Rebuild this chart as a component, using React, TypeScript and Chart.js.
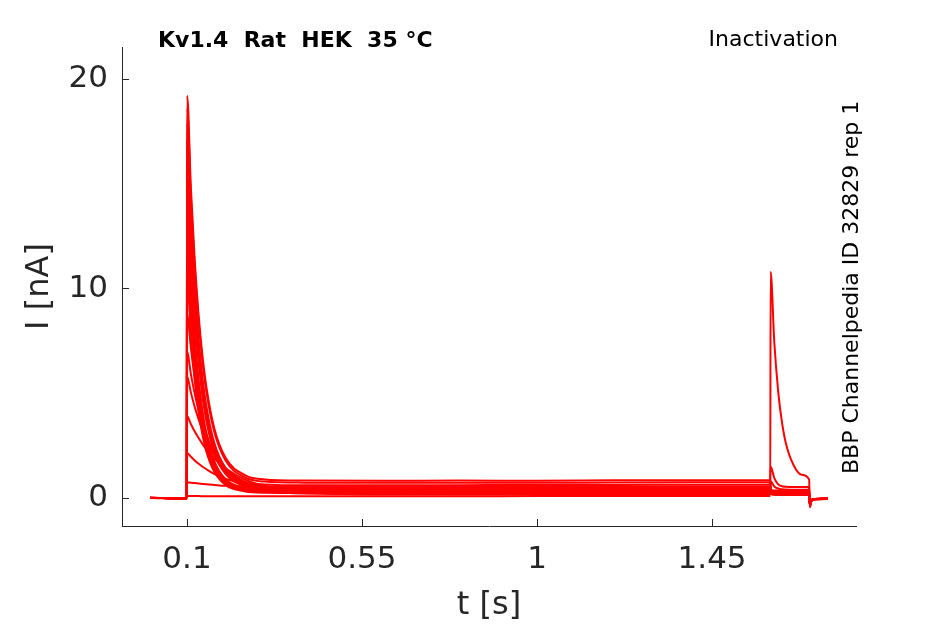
import { useEffect, useRef } from 'react';
import { Chart, registerables } from 'chart.js';

Chart.register(...registerables);

// sample times [s]: baseline | prepulse | test pulse | tail
const tSec = [
  0.005, 0.0995,
  0.1005, 0.11, 0.12, 0.13, 0.14, 0.15, 0.17, 0.2, 0.25, 0.3, 0.4, 0.6, 0.8, 1.0, 1.2, 1.4, 1.5995,
  1.6005, 1.61, 1.62, 1.63, 1.64, 1.66, 1.68, 1.6995,
  1.7015, 1.705, 1.715, 1.748,
];

// current [nA], one sweep per array
const sweep01 = [0, -0.02, 19.2, 14.83, 11.35, 8.72, 6.76, 5.29, 3.34, 1.89, 1.08, 0.88, 0.83, 0.82, 0.83, 0.82, 0.84, 0.85, 0.85, 0.4, 0.36, 0.35, 0.35, 0.35, 0.35, 0.34, 0.35, -0.42, -0.16, -0.06, -0.05];
const sweep02 = [0.01, -0.02, 18.6, 14.34, 10.97, 8.41, 6.5, 5.06, 3.17, 1.76, 0.97, 0.78, 0.73, 0.72, 0.73, 0.72, 0.74, 0.75, 0.75, 0.38, 0.33, 0.32, 0.32, 0.32, 0.32, 0.31, 0.32, -0.4, -0.15, -0.06, -0.04];
const sweep03 = [0, -0.01, 17.9, 13.52, 10.1, 7.57, 5.72, 4.37, 2.64, 1.41, 0.77, 0.64, 0.6, 0.6, 0.61, 0.62, 0.62, 0.63, 0.63, 0.36, 0.31, 0.3, 0.3, 0.3, 0.3, 0.3, 0.3, -0.38, -0.15, -0.06, -0.05];
const sweep04 = [0, -0.03, 17.1, 12.91, 9.62, 7.2, 5.43, 4.13, 2.48, 1.3, 0.69, 0.56, 0.52, 0.52, 0.53, 0.53, 0.54, 0.55, 0.55, 0.34, 0.29, 0.28, 0.28, 0.28, 0.28, 0.28, 0.28, -0.37, -0.14, -0.05, -0.04];
const sweep05 = [0.01, -0.02, 16.2, 12.22, 9.1, 6.8, 5.12, 3.89, 2.32, 1.2, 0.62, 0.49, 0.46, 0.47, 0.46, 0.48, 0.48, 0.49, 0.49, 0.33, 0.28, 0.27, 0.27, 0.27, 0.27, 0.27, 0.27, -0.36, -0.14, -0.05, -0.05];
const sweep06 = [0, -0.02, 15.3, 11.54, 8.59, 6.42, 4.82, 3.66, 2.18, 1.12, 0.57, 0.45, 0.42, 0.42, 0.43, 0.43, 0.44, 0.44, 0.44, 0.31, 0.26, 0.25, 0.25, 0.25, 0.25, 0.25, 0.25, -0.35, -0.13, -0.05, -0.04];
const sweep07 = [0, -0.01, 14.4, 10.6, 7.7, 5.62, 4.14, 3.07, 1.77, 0.88, 0.48, 0.4, 0.38, 0.38, 0.39, 0.39, 0.4, 0.4, 0.4, 0.3, 0.25, 0.24, 0.24, 0.24, 0.24, 0.24, 0.24, -0.34, -0.13, -0.05, -0.04];
const sweep08 = [0.01, -0.03, 13.4, 9.86, 7.16, 5.22, 3.84, 2.85, 1.63, 0.81, 0.43, 0.36, 0.34, 0.35, 0.34, 0.35, 0.36, 0.36, 0.36, 0.28, 0.23, 0.22, 0.22, 0.22, 0.22, 0.22, 0.22, -0.33, -0.12, -0.05, -0.04];
const sweep09 = [0, -0.02, 12.4, 9.12, 6.62, 4.83, 3.54, 2.62, 1.5, 0.74, 0.38, 0.32, 0.3, 0.3, 0.31, 0.31, 0.32, 0.32, 0.32, 0.26, 0.21, 0.2, 0.2, 0.2, 0.2, 0.2, 0.2, -0.32, -0.12, -0.05, -0.04];
const sweep10 = [0, -0.02, 11.4, 8.38, 6.08, 4.43, 3.25, 2.41, 1.37, 0.67, 0.35, 0.29, 0.27, 0.27, 0.28, 0.28, 0.29, 0.29, 0.29, 0.24, 0.2, 0.19, 0.19, 0.19, 0.19, 0.19, 0.19, -0.31, -0.11, -0.05, -0.04];
const sweep11 = [0.01, -0.01, 10.5, 7.72, 5.6, 4.08, 2.99, 2.21, 1.26, 0.61, 0.31, 0.25, 0.24, 0.24, 0.25, 0.25, 0.26, 0.26, 0.26, 0.22, 0.19, 0.18, 0.18, 0.18, 0.18, 0.18, 0.18, -0.3, -0.11, -0.05, -0.04];
const sweep12 = [0, -0.02, 8.8, 7.17, 5.78, 4.67, 3.79, 3.08, 2.05, 1.16, 0.53, 0.32, 0.23, 0.22, 0.22, 0.23, 0.23, 0.24, 0.24, 0.2, 0.18, 0.17, 0.17, 0.17, 0.17, 0.17, 0.17, -0.3, -0.11, -0.05, -0.04];
const sweep13 = [0, -0.02, 7.0, 5.92, 4.97, 4.18, 3.52, 2.97, 2.12, 1.32, 0.65, 0.38, 0.21, 0.2, 0.2, 0.21, 0.21, 0.22, 0.22, 0.19, 0.17, 0.16, 0.16, 0.16, 0.16, 0.16, 0.16, -0.29, -0.1, -0.05, -0.04];
const sweep14 = [0.01, -0.02, 5.8, 5.04, 4.34, 3.75, 3.24, 2.8, 2.11, 1.39, 0.74, 0.44, 0.24, 0.18, 0.19, 0.19, 0.2, 0.2, 0.2, 0.18, 0.16, 0.15, 0.15, 0.15, 0.15, 0.15, 0.15, -0.28, -0.1, -0.05, -0.04];
const sweep15 = [0, -0.02, 3.9, 3.53, 3.17, 2.86, 2.57, 2.32, 1.89, 1.4, 0.87, 0.57, 0.29, 0.17, 0.16, 0.17, 0.17, 0.18, 0.18, 0.2, 0.16, 0.15, 0.14, 0.14, 0.14, 0.14, 0.14, -0.28, -0.1, -0.05, -0.04];
const sweep16 = [0, -0.02, 2.15, 1.97, 1.79, 1.63, 1.49, 1.37, 1.15, 0.91, 0.65, 0.5, 0.37, 0.31, 0.3, 0.31, 0.31, 0.32, 0.32, 0.8, 0.55, 0.45, 0.41, 0.4, 0.39, 0.39, 0.39, -0.3, -0.11, -0.05, -0.04];
const sweep17 = [0, -0.02, 0.75, 0.73, 0.71, 0.69, 0.67, 0.65, 0.62, 0.58, 0.55, 0.53, 0.52, 0.51, 0.5, 0.51, 0.52, 0.52, 0.52, 1.5, 0.95, 0.65, 0.56, 0.53, 0.52, 0.52, 0.52, -0.35, -0.13, -0.05, -0.04];
const sweep18 = [0, -0.02, 0.1, 0.09, 0.09, 0.09, 0.08, 0.08, 0.08, 0.08, 0.08, 0.08, 0.08, 0.08, 0.08, 0.09, 0.09, 0.09, 0.09, 10.8, 7.42, 5.08, 3.57, 2.59, 1.55, 1.11, 0.88, -0.45, -0.17, -0.07, -0.05];

const sweeps = [
  sweep01, sweep02, sweep03, sweep04, sweep05, sweep06, sweep07, sweep08, sweep09,
  sweep10, sweep11, sweep12, sweep13, sweep14, sweep15, sweep16, sweep17, sweep18,
];

const xTickVals = [0.1, 0.55, 1, 1.45];
const yTickVals = [0, 10, 20];

const AXIS = '#262626';
const FONT = '"DejaVu Sans", sans-serif';

// MATLAB-ish inward ticks + the loose text around the axes
const overlay = {
  id: 'overlay',
  afterDraw(chart: any) {
    const { ctx, chartArea } = chart;
    const x = chart.scales.x;
    const y = chart.scales.y;
    ctx.save();
    ctx.strokeStyle = AXIS;
    ctx.lineWidth = 1;
    ctx.beginPath();
    xTickVals.forEach((v) => {
      const px = Math.round(x.getPixelForValue(v)) + 0.5;
      ctx.moveTo(px, chartArea.bottom);
      ctx.lineTo(px, chartArea.bottom - 7);
    });
    yTickVals.forEach((v) => {
      const py = Math.round(y.getPixelForValue(v)) + 0.5;
      ctx.moveTo(chartArea.left, py);
      ctx.lineTo(chartArea.left + 7, py);
    });
    ctx.stroke();

    ctx.fillStyle = '#000';
    ctx.textBaseline = 'alphabetic';
    ctx.font = `bold 22px ${FONT}`;
    ctx.textAlign = 'left';
    ctx.fillText('Kv1.4  Rat  HEK  35 °C', 158, 47);
    ctx.font = `22px ${FONT}`;
    ctx.textAlign = 'right';
    ctx.fillText('Inactivation', 838, 46);

    ctx.save();
    ctx.translate(858, 474);
    ctx.rotate(-Math.PI / 2);
    ctx.textAlign = 'left';
    ctx.fillText('BBP Channelpedia ID 32829 rep 1', 0, 0);
    ctx.restore();

    ctx.fillStyle = AXIS;
    ctx.font = `32px ${FONT}`;
    ctx.textAlign = 'center';
    ctx.fillText('t [s]', (chartArea.left + chartArea.right) / 2, 614);
    ctx.save();
    ctx.translate(48, (chartArea.top + chartArea.bottom) / 2);
    ctx.rotate(-Math.PI / 2);
    ctx.fillText('I [nA]', 0, 0);
    ctx.restore();
    ctx.restore();
  },
};

export default function App() {
  const canvasRef = useRef<HTMLCanvasElement>(null);
  const chartRef = useRef<Chart | null>(null);

  useEffect(() => {
    if (!canvasRef.current) return;
    if (chartRef.current) chartRef.current.destroy();

    chartRef.current = new Chart(canvasRef.current, {
      type: 'line',
      data: {
        datasets: sweeps.map((s) => ({
          data: tSec.map((t, i) => ({ x: t, y: s[i] })),
          borderColor: '#ff0000',
          borderWidth: 2,
          pointRadius: 0,
          fill: false,
          cubicInterpolationMode: 'monotone' as const,
        })),
      },
      options: {
        responsive: false,
        animation: false,
        layout: { padding: { top: 47, right: 89, left: 0, bottom: 0 } },
        plugins: { legend: { display: false }, tooltip: { enabled: false } },
        scales: {
          x: {
            type: 'linear',
            min: -0.067,
            max: 1.82,
            afterBuildTicks: (scale: any) => {
              scale.ticks = xTickVals.map((v) => ({ value: v }));
            },
            afterFit: (scale: any) => {
              scale.height = 98;
            },
            grid: { display: false, drawTicks: false },
            border: { display: true, color: AXIS, width: 1 },
            ticks: {
              autoSkip: false,
              maxRotation: 0,
              padding: 15,
              color: AXIS,
              font: { size: 31, family: FONT },
              callback: (v: any) => String(v),
            },
          },
          y: {
            min: -1.34,
            max: 21.53,
            afterBuildTicks: (scale: any) => {
              scale.ticks = yTickVals.map((v) => ({ value: v }));
            },
            afterFit: (scale: any) => {
              scale.width = 122;
            },
            grid: { display: false, drawTicks: false },
            border: { display: true, color: AXIS, width: 1 },
            ticks: {
              padding: 14,
              color: AXIS,
              font: { size: 31, family: FONT },
              callback: (v: any) => String(v),
            },
          },
        },
      },
      plugins: [overlay],
    });

    return () => chartRef.current?.destroy();
  }, []);

  return (
    <div style={{ position: 'absolute', left: 0, top: 0, width: 945, height: 624, background: '#fff' }}>
      <canvas ref={canvasRef} width={945} height={624} />
    </div>
  );
}
